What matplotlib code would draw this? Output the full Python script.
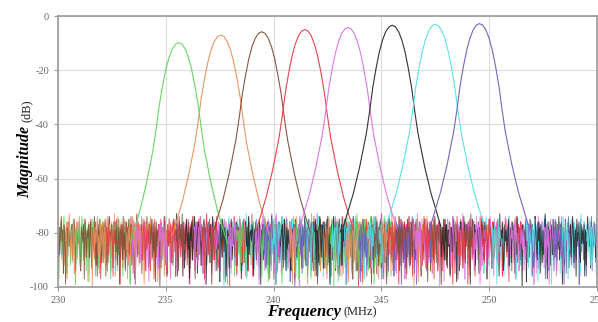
import numpy as np
import matplotlib
matplotlib.use("Agg")
import matplotlib.pyplot as plt

plt.rcParams["axes.unicode_minus"] = False

# Channel filter bank: centre frequency (MHz) and peak gain (dB) per channel
centers = [235.6, 237.55, 239.45, 241.45, 243.45, 245.5, 247.5, 249.55]
peaks = [-9.8, -7.0, -5.8, -5.0, -4.2, -3.4, -3.0, -2.8]
colors = ["#5fd35f", "#e8905a", "#7a5038", "#e43a44", "#e070e0",
          "#262626", "#55e0e0", "#6a5fc0"]
span = 10.0  # each sweep covers centre +/- span (MHz)

# Passband shape: offset from centre (MHz) and drop below peak (dB)
shape_offset = [0.0, 0.15, 0.3, 0.45, 0.6, 0.75, 0.9, 1.05, 1.2, 1.35,
                1.5, 1.65, 1.8, 1.95, 2.1, 2.25]
shape_drop = [0.0, 0.6, 2.4, 5.5, 10.0, 16.0, 23.0, 32.0, 40.0, 46.0,
              52.0, 57.0, 62.0, 66.0, 70.0, 74.0]

# Measured noise floor record (dB)
noise_floor = [
    -79, -84, -77, -91, -88, -76, -80, -83, -75, -96, -79, -82, -91, -78, -74, -81, -89, -77, -80, -93,
    -76, -82, -79, -87, -75, -92, -84, -78, -99, -81, -77, -83, -90, -74, -86, -80, -94, -76, -89, -78,
    -81, -75, -88, -80, -77, -92, -79, -83, -76, -97, -85, -78, -73, -82, -88, -79, -91, -84, -77, -95,
    -78, -83, -76, -90, -86, -79, -74, -82, -93, -90, -77, -84, -79, -75, -89, -80, -87, -78, -98, -76,
    -85, -79, -81, -77, -100, -80, -76, -90, -78, -84, -80, -74, -88, -81, -95, -77, -85, -82, -76, -91,
    -80, -78, -92, -75, -81, -87, -79, -83, -77, -89, -94, -76, -82, -79, -85, -73, -96, -78, -86, -80,
    -77, -83, -80, -89, -76, -82, -93, -84, -79, -75, -81, -86, -80, -97, -78, -83, -76, -90, -84, -79,
    -74, -82, -87, -78, -95, -76, -85, -81, -79, -92, -77, -83, -88, -75, -84, -78, -99, -88, -79, -76,
    -83, -80, -77, -91, -81, -74, -79, -90, -82, -78, -76, -94, -80, -86, -79, -98, -77, -81, -89, -75,
    -80, -87, -78, -82, -96, -84, -79, -81, -93, -77, -83, -75, -90, -85, -78, -82, -89, -79, -76, -92,
    -84, -78, -80, -75, -86, -97, -79, -77, -83, -91, -80, -76, -85, -78, -94, -74, -88, -80, -79, -83,
    -77, -81, -96, -79, -84, -76, -90, -82, -78, -87, -75, -83, -99, -79, -85, -77, -90, -81, -78, -93,
    -79, -76, -84, -92, -78, -88, -80, -74, -83, -79, -95, -77, -82, -99, -80, -78, -89, -76, -81, -85,
    -82, -79, -77, -90, -81, -75, -83, -94, -78, -86, -79, -84, -76, -91, -94, -78, -80, -83, -77, -97,
    -75, -81, -89, -79, -82, -77, -89, -80, -76, -93, -78, -85, -81, -74, -80, -92, -79, -96, -77, -84,
]

x_ticks = [230, 235, 240, 245, 250, 255]
y_ticks = [0, -20, -40, -60, -80, -100]

serif = ["Liberation Serif", "DejaVu Serif"]

fig = plt.figure(figsize=(5.98, 3.22), dpi=100)
ax = fig.add_axes([58 / 598, 1 - 287 / 322, 539 / 598, 271 / 322])

base = np.asarray(noise_floor, dtype=float)
off = np.asarray(shape_offset)
drop = np.asarray(shape_drop)
chunk = 12  # samples per drawn piece, so overlapping sweeps interleave

for k, (fc, pk, col) in enumerate(zip(centers, peaks, colors)):
    # sweep record for this channel: two passes of the stored floor
    nz = np.concatenate([np.roll(base, k * 37), np.roll(base[::-1], k * 53)])
    freq = np.linspace(fc - span, fc + span, nz.size)
    edge = off[-1]
    left = freq < fc - edge
    right = freq > fc + edge
    band_x = np.concatenate([fc - off[::-1], fc + off[1:]])
    band_y = np.concatenate([pk - drop[::-1], pk - drop[1:]])

    # passband curve drawn on top of the floor
    ax.plot(band_x, band_y, color=col, lw=0.8, alpha=0.95, zorder=4)

    lx = np.append(freq[left], band_x[0])
    ly = np.append(nz[left], band_y[0])
    rx = np.insert(freq[right], 0, band_x[-1])
    ry = np.insert(nz[right], 0, band_y[-1])
    for part_x, part_y in ((lx, ly), (rx, ry)):
        for j, s in enumerate(range(0, part_x.size - 1, chunk)):
            sl = slice(s, min(s + chunk + 1, part_x.size))
            z = 2 + ((k * 5 + j * 3 + int(part_x[s] * 7)) % 8) * 0.1
            ax.plot(part_x[sl], part_y[sl], color=col, lw=0.65, alpha=0.88,
                    zorder=z, solid_joinstyle="round")

ax.set_xlim(x_ticks[0], x_ticks[-1])
ax.set_ylim(y_ticks[-1], y_ticks[0])
ax.set_xticks(x_ticks)
ax.set_yticks(y_ticks)
ax.grid(True, color="#dcdcdc", lw=0.8)
ax.set_axisbelow(True)
for s in ax.spines.values():
    s.set_color("#9a9a9a")
    s.set_linewidth(1.2)
    s.set_zorder(6)
ax.tick_params(axis="both", colors="#9a9a9a", labelcolor="#666666",
               labelsize=7.5, length=3, width=0.8)
for lab in ax.get_xticklabels() + ax.get_yticklabels():
    lab.set_fontfamily(serif)

# Axis titles: bold italic quantity followed by the unit in plain type
fig.text(341 / 598, 1 - 312 / 322, "Frequency", ha="right", va="center",
         fontsize=12, fontweight="bold", fontstyle="italic", family=serif)
fig.text(344 / 598, 1 - 312 / 322, "(MHz)", ha="left", va="center",
         fontsize=9, family=serif, color="#222222")
fig.text(25 / 598, 1 - 126 / 322, "Magnitude", ha="center", va="top",
         rotation=90, fontsize=11.5, fontweight="bold", fontstyle="italic",
         family=serif)
fig.text(27 / 598, 1 - 122 / 322, "(dB)", ha="center", va="bottom",
         rotation=90, fontsize=9, family=serif, color="#222222")

fig.savefig("out.png", dpi=100)
